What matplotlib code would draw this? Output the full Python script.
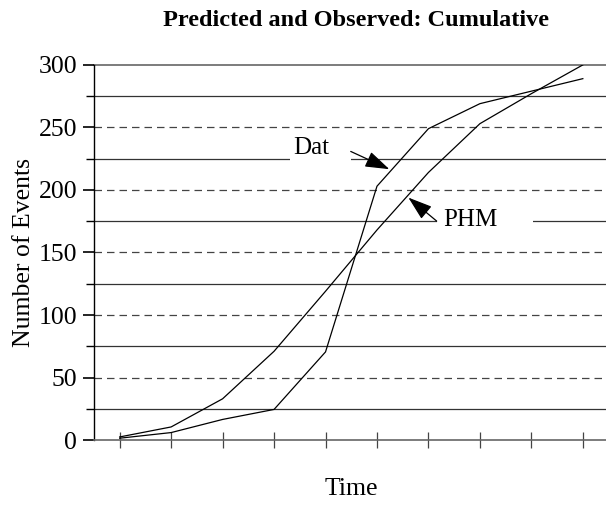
import matplotlib.pyplot as plt
from matplotlib.patches import Rectangle

plt.rcParams['font.family'] = ['Liberation Serif', 'DejaVu Serif']

# datos
time = [1, 2, 3, 4, 5, 6, 7, 8, 9, 10]
dat = [1.5, 6, 16.5, 24.5, 70.5, 203, 249, 269, 279, 289]
phm = [2.5, 10.5, 33, 71, 119, 168, 214, 253, 277, 300]
yticks = [0, 50, 100, 150, 200, 250, 300]
solid_grid = [25, 75, 125, 175, 225, 275]
dashed_grid = [50, 100, 150, 200, 250]

fig = plt.figure(figsize=(6.06, 5.07), dpi=100)
ax = fig.add_axes([0.155, 0.132, 0.845, 0.74])

# cuadricula
for y in solid_grid:
    ax.axhline(y, color='#333333', linewidth=0.9, zorder=1)
for y in dashed_grid:
    ax.axhline(y, color='#444444', linewidth=0.9, linestyle=(0, (6, 4)), zorder=1)
ax.axhline(300, color='#666666', linewidth=1.2, zorder=1, clip_on=False)

# huecos blancos para las etiquetas
ax.add_patch(Rectangle((4.31, 219), 1.18, 12, facecolor='white', edgecolor='none', zorder=2))
ax.add_patch(Rectangle((7.17, 169), 1.86, 12, facecolor='white', edgecolor='none', zorder=2))

ax.plot(time, dat, color='black', linewidth=0.9, zorder=3)
ax.plot(time, phm, color='black', linewidth=0.9, zorder=3)

arrow = dict(arrowstyle='-|>,head_length=1.5,head_width=0.5', color='black',
             linewidth=0.9, shrinkA=0, shrinkB=0)
ax.text(4.37, 228.6, 'Dat', fontsize=18, va='baseline', ha='left', zorder=4)
ax.annotate('', xy=(6.24, 216.6), xytext=(5.49, 230.8), arrowprops=arrow, zorder=4)
ax.text(7.29, 171, 'PHM', fontsize=18, va='baseline', ha='left', zorder=4)
ax.annotate('', xy=(6.61, 193.9), xytext=(7.16, 175.1), arrowprops=arrow, zorder=4)

ax.set_xlim(0.5, 10.45)
ax.set_ylim(0, 300)
ax.set_xticks(time)
ax.set_xticklabels([])
ax.set_yticks(yticks)
ax.set_yticks(solid_grid, minor=True)
ax.tick_params(axis='x', direction='inout', length=12, width=0.9, color='#444444')
ax.tick_params(axis='y', which='major', direction='out', length=8, width=1.2,
               labelsize=18.5, pad=4)
ax.tick_params(axis='y', which='minor', direction='out', length=6, width=1.0)

for s in ['top', 'right']:
    ax.spines[s].set_visible(False)
ax.spines['left'].set_linewidth(1.0)
ax.spines['bottom'].set_color('#666666')
ax.spines['bottom'].set_linewidth(1.2)

ax.set_ylabel('Number of Events', fontsize=18.5, va='center')
ax.yaxis.set_label_coords(-0.137, 0.501)
ax.set_xlabel('Time', fontsize=18.5, va='center')
ax.xaxis.set_label_coords(0.502, -0.131)
fig.suptitle('Predicted and Observed: Cumulative', fontsize=17.5, fontweight='bold',
             x=0.587, y=0.96, va='center')

fig.savefig('out.png', dpi=100)
